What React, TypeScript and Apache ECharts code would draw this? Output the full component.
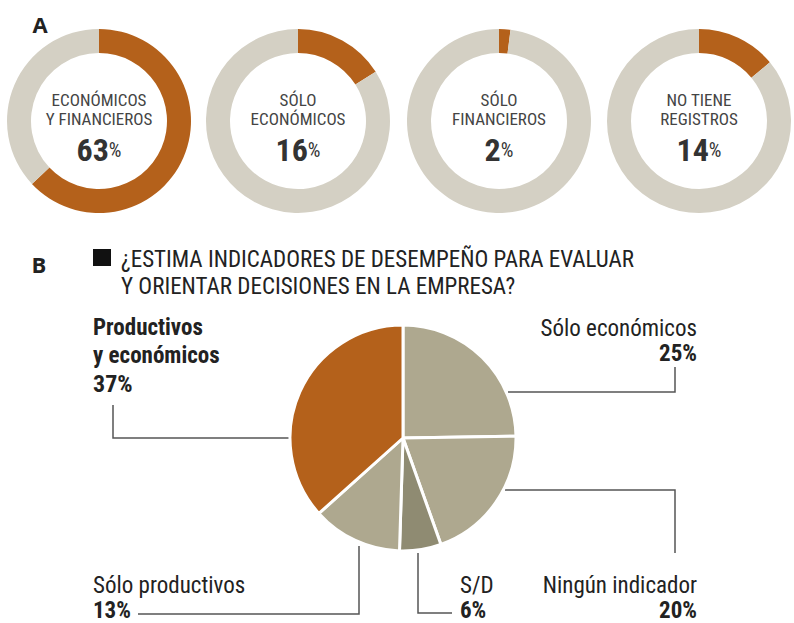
import React, { useEffect, useRef } from "react";
import * as echarts from "echarts";

const donutLabels = [
  ["ECONÓMICOS", "Y FINANCIEROS"],
  ["SÓLO", "ECONÓMICOS"],
  ["SÓLO", "FINANCIEROS"],
  ["NO TIENE", "REGISTROS"],
];
const donutValues = [63, 16, 2, 14];

const pieTitle = [
  "¿ESTIMA INDICADORES DE DESEMPEÑO PARA EVALUAR",
  "Y ORIENTAR DECISIONES EN LA EMPRESA?",
];
const pieCategories = [
  "Sólo económicos",
  "Ningún indicador",
  "S/D",
  "Sólo productivos",
  "Productivos\ny económicos",
];
const pieValues = [25, 20, 6, 13, 37];

const FONT = "'Roboto Condensed', Roboto, sans-serif";
const ORANGE = "#B4611B";
const RING = "#D4D0C4";
const SLICE = "#AEA88F";
const SLICE_DARK = "#8F8B72";
const sliceColors = [SLICE, SLICE, SLICE_DARK, SLICE, ORANGE];

const donutCentersX = [99, 298, 499, 699];
const DONUT_CY = 121;

const labelSpots = [
  { x: 697, y: 316, align: "right", pts: [[508, 392], [675, 392], [675, 367]] },
  { x: 697, y: 573, align: "right", pts: [[505, 490], [675, 490], [675, 553]] },
  { x: 460, y: 573, align: "left", pts: [[418, 553], [418, 613], [452, 613]] },
  { x: 93, y: 573, align: "left", pts: [[359, 546], [359, 614], [138, 614]] },
  { x: 93, y: 313, align: "left", pts: [[289, 438], [113, 438], [113, 405]] },
];

export default function App() {
  const ref = useRef<HTMLDivElement>(null);
  useEffect(() => {
    document.body.style.margin = "0";
    if (!ref.current) return;
    const chart = echarts.init(ref.current, undefined, { renderer: "svg" });

    const donutSeries = donutValues.map((v, i) => ({
      type: "pie",
      radius: [68, 92],
      center: [donutCentersX[i], DONUT_CY],
      startAngle: 90,
      clockwise: true,
      silent: true,
      label: { show: false },
      labelLine: { show: false },
      itemStyle: { borderWidth: 0 },
      data: [
        { value: v, name: donutLabels[i].join(" "), itemStyle: { color: ORANGE } },
        { value: 100 - v, name: "resto", itemStyle: { color: RING } },
      ],
    }));

    const donutTexts: any[] = [];
    donutValues.forEach((v, i) => {
      const cx = donutCentersX[i];
      donutLabels[i].forEach((t, j) => {
        donutTexts.push({
          type: "text",
          x: cx,
          y: 100 + j * 19,
          style: {
            text: t,
            fontFamily: FONT,
            fontSize: 17,
            fill: "#444",
            align: "center",
            verticalAlign: "middle",
            textAlign: "center",
            textVerticalAlign: "middle",
          },
        });
      });
      donutTexts.push({
        type: "text",
        x: cx,
        y: 150,
        style: {
          text: `{v|${v}}{p|%}`,
          align: "center",
          verticalAlign: "middle",
          textAlign: "center",
          textVerticalAlign: "middle",
          rich: {
            v: { fontFamily: FONT, fontSize: 32, fontWeight: "bold", fill: "#333", color: "#333" },
            p: { fontFamily: FONT, fontSize: 20, fill: "#333", color: "#333" },
          },
        },
      });
    });

    const letter = (t: string, x: number, y: number) => ({
      type: "text",
      x,
      y,
      style: {
        text: t,
        fontFamily: "'Open Sans', sans-serif",
        fontSize: 22,
        fontWeight: "bold",
        fill: "#222",
        align: "center",
        verticalAlign: "middle",
        textAlign: "center",
        textVerticalAlign: "middle",
      },
    });

    const option: any = {
      animation: false,
      title: {
        text: pieTitle.join("\n"),
        left: 121,
        top: 246,
        padding: 0,
        textStyle: {
          fontFamily: FONT,
          fontSize: 23,
          fontWeight: "normal",
          color: "#222",
          lineHeight: 27,
        },
      },
      graphic: [
        letter("A", 40, 24),
        letter("B", 39, 264),
        { type: "rect", shape: { x: 93, y: 249, width: 18, height: 17 }, style: { fill: "#111" } },
        ...donutTexts,
      ],
      series: [
        ...donutSeries,
        {
          type: "pie",
          radius: 113,
          center: [403, 438],
          startAngle: 90,
          clockwise: true,
          avoidLabelOverlap: false,
          silent: true,
          itemStyle: { borderColor: "#fff", borderWidth: 3 },
          label: {
            show: true,
            position: "outside",
            fontFamily: FONT,
            color: "#222",
            formatter: (p: any) => {
              if (p.dataIndex === 4) {
                return (
                  p.name.split("\n").map((s: string) => `{b|${s}}`).join("\n") +
                  `\n{vb|${p.value}%}`
                );
              }
              return `{n|${p.name}}\n{v|${p.value}%}`;
            },
            rich: {
              n: { fontFamily: FONT, fontSize: 23, color: "#222", lineHeight: 25 },
              v: { fontFamily: FONT, fontSize: 23, fontWeight: "bold", color: "#222", lineHeight: 25 },
              b: { fontFamily: FONT, fontSize: 23, fontWeight: "bold", color: "#222", lineHeight: 28 },
              vb: { fontFamily: FONT, fontSize: 24, fontWeight: "bold", color: "#222", lineHeight: 29 },
            },
          },
          labelLine: { show: true, smooth: false, lineStyle: { color: "#555", width: 1.5 } },
          labelLayout: (params: any) => {
            const s = labelSpots[params.dataIndex];
            return {
              x: s.x,
              y: s.y,
              align: s.align,
              verticalAlign: "top",
              labelLinePoints: s.pts,
            };
          },
          data: pieValues.map((v, i) => ({
            value: v,
            name: pieCategories[i],
            itemStyle: { color: sliceColors[i] },
          })),
        },
      ],
    };
    chart.setOption(option);
    return () => chart.dispose();
  }, []);
  return <div ref={ref} style={{ width: 794, height: 623 }} />;
}
